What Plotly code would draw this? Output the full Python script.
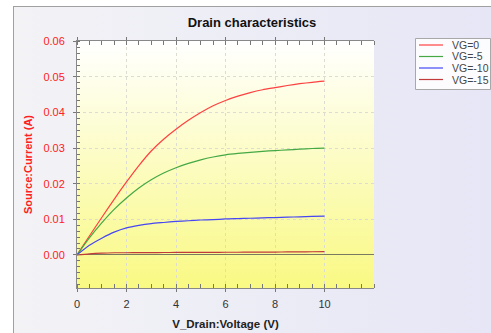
import base64
import plotly.graph_objects as go

# ---------------- data ----------------
vd = [0, 0.5, 1, 1.5, 2, 2.5, 3, 3.5, 4, 4.5, 5, 5.5, 6, 6.5, 7, 7.5, 8, 8.5, 9, 9.5, 10]
vg0 = [0, 0.0053, 0.0105, 0.0156, 0.0205, 0.0251, 0.0292, 0.0325, 0.0353, 0.0378, 0.0400,
       0.0419, 0.0434, 0.0446, 0.0456, 0.0464, 0.0470, 0.0476, 0.0481, 0.0485, 0.0488]
vg5 = [0, 0.0048, 0.0090, 0.0128, 0.0160, 0.0188, 0.0211, 0.0230, 0.0245, 0.0257, 0.0267,
       0.0275, 0.0281, 0.0285, 0.0288, 0.0291, 0.0293, 0.0295, 0.0297, 0.0299, 0.0300]
vg10 = [0, 0.0027, 0.0047, 0.0064, 0.0076, 0.0083, 0.0088, 0.0091, 0.0094, 0.0096, 0.0098,
        0.0099, 0.0101, 0.0102, 0.0103, 0.0104, 0.0105, 0.0106, 0.0107, 0.0108, 0.0109]
vg15 = [0, 0.0003, 0.0005, 0.0006, 0.0006, 0.00063, 0.00065, 0.00067, 0.00069, 0.0007, 0.00072,
        0.00073, 0.00074, 0.00075, 0.00076, 0.00077, 0.0008, 0.00084, 0.00086, 0.00088, 0.0009]
series_names = ["VG=0", "VG=-5", "VG=-10", "VG=-15"]
series_values = [vg0, vg5, vg10, vg15]
series_colors = ["#ff4040", "#44a844", "#4646f5", "#c23a3a"]
x_ticks = [0, 2, 4, 6, 8, 10]
y_ticks = [0, 0.01, 0.02, 0.03, 0.04, 0.05, 0.06]

W, H = 491, 333
L, R, T, B = 77, 117, 41, 45
pw, ph = W - L - R, H - T - B


def px2paper_x(p):
    return (p - L) / pw


def px2paper_y(p):
    return (H - B - p) / ph


def grad_svg(c1, c2, vertical):
    x2, y2 = ("0", "1") if vertical else ("1", "0")
    svg = (f'<svg xmlns="http://www.w3.org/2000/svg" width="100" height="100" preserveAspectRatio="none">'
           f'<defs><linearGradient id="g" x1="0" y1="0" x2="{x2}" y2="{y2}">'
           f'<stop offset="0" stop-color="{c1}"/><stop offset="1" stop-color="{c2}"/>'
           f'</linearGradient></defs><rect width="100" height="100" fill="url(#g)"/></svg>')
    return "data:image/svg+xml;base64," + base64.b64encode(svg.encode()).decode()


fig = go.Figure()
for name, vals, col in zip(series_names, series_values, series_colors):
    fig.add_trace(go.Scatter(x=vd, y=vals, mode="lines", name=name, line_shape="spline",
                             line=dict(color=col, width=1.2, smoothing=0.6), showlegend=False))

FONT = "Liberation Sans, Arial, sans-serif"
yr = [-0.0093, 0.0601]

images = [
    dict(source=grad_svg("#f3f3f6", "#e6e6f6", False), xref="paper", yref="paper",
         x=px2paper_x(13), y=px2paper_y(6), sizex=(W - 13) / pw, sizey=(H - 6) / ph,
         sizing="stretch", layer="below", xanchor="left", yanchor="top"),
    dict(source=grad_svg("#ffffff", "#f9f984", True), xref="paper", yref="paper",
         x=0, y=1, sizex=1, sizey=1, sizing="stretch", layer="below",
         xanchor="left", yanchor="top"),
]

shapes = [
    dict(type="line", xref="paper", yref="paper", x0=px2paper_x(13.5), x1=px2paper_x(13.5),
         y0=px2paper_y(6), y1=px2paper_y(H), line=dict(color="#a0a0a0", width=1)),
    dict(type="line", xref="paper", yref="paper", x0=px2paper_x(13.5), x1=px2paper_x(W),
         y0=px2paper_y(6.5), y1=px2paper_y(6.5), line=dict(color="#a0a0a0", width=1)),
    # legend box
    dict(type="rect", xref="paper", yref="paper", x0=px2paper_x(415.5), x1=px2paper_x(490.5),
         y0=px2paper_y(89.5), y1=px2paper_y(38.5), fillcolor="#fcfcfe",
         line=dict(color="#a8a8a8", width=1), layer="above"),
]
annotations = []
for i, (name, col) in enumerate(zip(series_names, series_colors)):
    yy = px2paper_y(45 + i * 11.5)
    shapes.append(dict(type="line", xref="paper", yref="paper", x0=px2paper_x(419),
                       x1=px2paper_x(443), y0=yy, y1=yy, line=dict(color=col, width=1.2)))
    annotations.append(dict(text=name, xref="paper", yref="paper", x=px2paper_x(450), y=yy,
                            xanchor="left", yanchor="middle", showarrow=False,
                            font=dict(family=FONT, size=10.5, color="#444444")))

fig.update_layout(
    width=W, height=H,
    margin=dict(l=L, r=R, t=T, b=B, pad=0, autoexpand=False),
    paper_bgcolor="#ffffff",
    plot_bgcolor="rgba(0,0,0,0)",
    font=dict(family=FONT, size=11, color="#333333"),
    title=dict(text="Drain characteristics", xref="container", yref="container",
               x=252 / W, y=1 - 22 / H, xanchor="center", yanchor="middle",
               font=dict(family=FONT, size=13, color="#111111", weight="bold")),
    images=images,
    shapes=shapes,
    annotations=annotations,
    showlegend=False,
    xaxis=dict(range=[0, 12], tickmode="array", tickvals=x_ticks, automargin=False,
               ticks="outside", ticklen=3, tickcolor="#777777",
               minor=dict(tickmode="linear", tick0=0, dtick=0.5, ticks="inside",
                          ticklen=4, tickcolor="#777777"),
               showline=True, linecolor="#888888", linewidth=1, mirror="ticks",
               showgrid=True, gridcolor="#dcdcd0", griddash="dot", gridwidth=1,
               zeroline=False, ticklabelstandoff=3,
               tickfont=dict(family=FONT, size=11, color="#333333"),
               title=dict(text="V_Drain:Voltage (V)", standoff=10,
                          font=dict(family=FONT, size=11.5, color="#222222", weight="bold"))),
    yaxis=dict(range=yr, tickmode="array", tickvals=y_ticks, tickformat=".2f",
               automargin=False,
               ticks="outside", ticklen=3, tickcolor="#777777",
               minor=dict(tickmode="linear", tick0=0, dtick=0.01 / 6, ticks="inside",
                          ticklen=3, tickcolor="#777777"),
               showline=True, linecolor="#888888", linewidth=1,
               showgrid=True, gridcolor="#dcdcd0", griddash="dot", gridwidth=1,
               zeroline=True, zerolinecolor="#7a7a60", zerolinewidth=1,
               ticklabelstandoff=6,
               tickfont=dict(family=FONT, size=11, color="#ff2020"),
               title=dict(text="Source:Current (A)", standoff=8,
                          font=dict(family=FONT, size=11, color="#ff2020", weight="bold"))),
    yaxis2=dict(range=yr, overlaying="y", side="right", tickmode="array",
                tickvals=y_ticks, tickformat=".2f", automargin=False,
                ticks="outside", ticklen=3, tickcolor="#777777",
                minor=dict(tickmode="linear", tick0=0, dtick=0.01 / 6, ticks="inside",
                           ticklen=3, tickcolor="#777777"),
                showline=True, linecolor="#888888", linewidth=1,
                showgrid=False, zeroline=False, ticklabelstandoff=8,
                tickfont=dict(family=FONT, size=11, color="#30a030")),
)

fig.write_html("out.html", config={"displayModeBar": False},
               post_script="document.body.style.margin='0';document.body.style.overflow='hidden';")
